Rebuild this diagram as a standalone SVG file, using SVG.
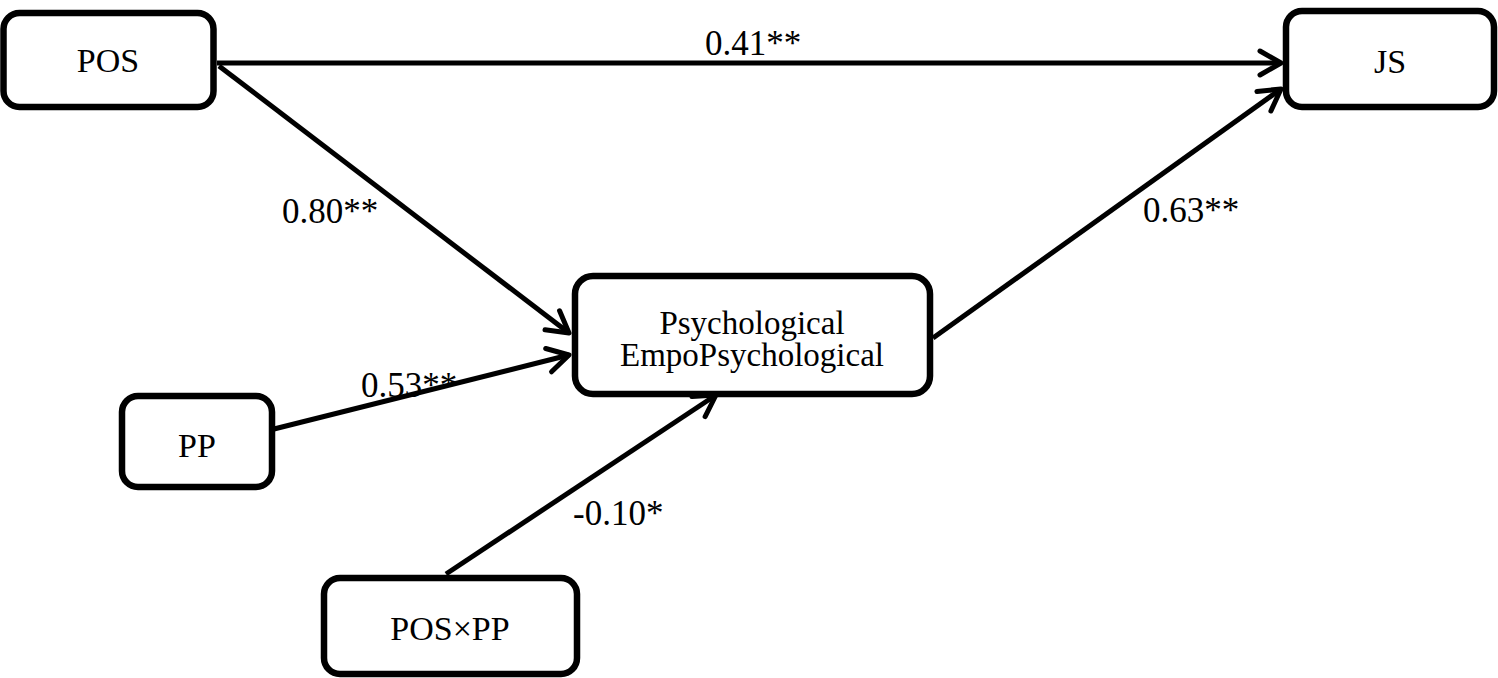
<svg xmlns="http://www.w3.org/2000/svg" width="1498" height="678" viewBox="0 0 1498 678">
<style>
.box{fill:#fff;stroke:#000;stroke-width:6.5}
.t{font-family:'Times New Roman','Liberation Serif','DejaVu Serif',serif;font-size:34px;fill:#000;text-anchor:middle}
.lbl{font-family:'Times New Roman','Liberation Serif','DejaVu Serif',serif;font-size:35px;fill:#000}
.c{fill:none;stroke:#000;stroke-width:5;marker-end:url(#arr)}
</style>
<defs>
<marker id="arr" markerUnits="userSpaceOnUse" viewBox="-26 -16 30 32" refX="0" refY="0" markerWidth="30" markerHeight="32" orient="auto" overflow="visible">
<path d="M-21,-12 L0,0 L-21,12" fill="none" stroke="#000" stroke-width="5" stroke-linecap="round" stroke-linejoin="round"/>
</marker>
</defs>
<g id="connectors">
<line class="c" x1="217" y1="63" x2="1281" y2="63"/>
<line class="c" x1="219" y1="66" x2="569" y2="333"/>
<line class="c" x1="274" y1="429" x2="569" y2="355"/>
<line class="c" x1="446" y1="574" x2="716" y2="395"/>
<line class="c" x1="933" y1="338" x2="1281" y2="89"/>
</g>
<g id="labels">
<text class="lbl" x="705" y="55">0.41**</text>
<text class="lbl" x="282" y="223">0.80**</text>
<text class="lbl" x="1143" y="222">0.63**</text>
<text class="lbl" x="361" y="397">0.53**</text>
<text class="lbl" x="573" y="525">-0.10*</text>
</g>
<g id="POS">
<rect class="box" x="3.5" y="13" width="210" height="94" rx="16"/>
<text class="t" x="108" y="72">POS</text>
</g>
<g id="JS">
<rect class="box" x="1286" y="11" width="208" height="96" rx="16"/>
<text class="t" x="1390" y="73">JS</text>
</g>
<g id="PE">
<rect class="box" x="575" y="276" width="355" height="118" rx="18"/>
<text class="t" x="752" y="334" style="font-size:33px">Psychological</text>
<text class="t" x="752" y="366" style="font-size:33px">EmpoPsychological</text>
</g>
<g id="PP">
<rect class="box" x="122" y="396" width="150" height="91" rx="16"/>
<text class="t" x="197" y="457">PP</text>
</g>
<g id="POSxPP">
<rect class="box" x="324" y="578" width="253" height="96" rx="16"/>
<text class="t" x="450" y="640">POS×PP</text>
</g>
</svg>
